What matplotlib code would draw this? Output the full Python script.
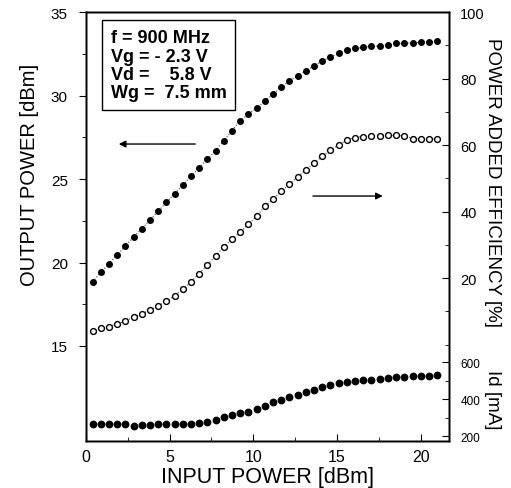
import numpy as np
import matplotlib.pyplot as plt

plt.rcParams['font.family'] = ['Liberation Sans', 'DejaVu Sans']

# input power grid (dBm)
pin = [0.4, 0.89, 1.38, 1.87, 2.36, 2.85, 3.34, 3.83, 4.32, 4.81, 5.3,
       5.79, 6.28, 6.77, 7.26, 7.75, 8.24, 8.73, 9.22, 9.71, 10.2, 10.69,
       11.18, 11.67, 12.16, 12.65, 13.14, 13.63, 14.12, 14.61, 15.1, 15.59,
       16.08, 16.57, 17.06, 17.55, 18.04, 18.53, 19.02, 19.51, 20.0, 20.49, 20.98]

pout = [18.85, 19.41, 19.94, 20.45, 20.99, 21.53, 22.02, 22.54, 23.07, 23.6,
        24.12, 24.64, 25.16, 25.68, 26.2, 26.69, 27.3, 27.9, 28.5, 28.9,
        29.25, 29.69, 30.09, 30.49, 30.89, 31.19, 31.49, 31.78, 32.08, 32.32,
        32.54, 32.74, 32.83, 32.89, 32.95, 32.98, 33.04, 33.13, 33.14, 33.16,
        33.19, 33.22, 33.26]

pae = [4.2, 4.96, 5.4, 6.3, 7.0, 8.4, 9.3, 10.4, 11.7, 13.1, 14.7, 16.7,
       18.9, 21.4, 24.0, 26.7, 29.5, 31.7, 33.8, 36.2, 38.6, 41.6, 43.8,
       46.1, 48.3, 50.5, 52.6, 54.6, 56.6, 58.5, 60.1, 61.6, 62.3, 62.6,
       62.8, 62.9, 63.0, 63.0, 62.8, 62.0, 62.0, 62.0, 61.8]

idrain = [265, 265, 265, 265, 265, 256, 261, 261, 265, 265, 265, 265, 265,
          269, 274, 287, 301, 315, 325, 332, 346, 364, 382, 396, 409, 422,
          436, 450, 463, 477, 486, 493, 496, 501, 503, 508, 512, 517, 521,
          523, 523, 526, 531]

fig = plt.figure(figsize=(5.11, 4.89), dpi=100)
ax = fig.add_axes([0.168, 0.096, 0.711, 0.877])
ax2 = ax.twinx()
ax3 = ax.twinx()

ax.plot(pin, pout, ls=':', lw=0.8, color='0.3', marker='o', ms=4.0,
        mfc='black', mec='black', zorder=3)
ax2.plot(pin, pae, ls=':', lw=0.8, color='0.3', marker='o', ms=4.2,
         mfc='white', mec='black', mew=1.0, zorder=3)
ax3.plot(pin, idrain, ls='none', marker='o', ms=4.6, mfc='black', mec='black')

ax.set_xlim(0, 21.7)
ax.set_ylim(9.3, 35)
ax.set_xticks([0, 5, 10, 15, 20])
ax.set_xticks([2.5, 7.5, 12.5, 17.5], minor=True)
ax.set_yticks([15, 20, 25, 30, 35])
ax.set_yticks([17.5, 22.5, 27.5, 32.5], minor=True)
ax.tick_params(axis='x', direction='in', length=5, labelsize=11.5, pad=6)
ax.tick_params(axis='x', which='minor', direction='in', length=3)
ax.tick_params(axis='y', direction='out', length=5, labelsize=11, pad=8)
ax.tick_params(axis='y', which='minor', direction='out', length=3)

ax2.set_ylim(-29, 100)
ax2.set_yticks([20, 40, 60, 80, 100])
ax2.set_yticks([0, 10, 30, 50, 70, 90], minor=True)
ax2.tick_params(axis='y', direction='in', length=5, labelsize=10.5, pad=8)
ax2.tick_params(axis='y', which='minor', direction='in', length=3)

ax3.set_ylim(173, 2490)
ax3.set_yticks([200, 400, 600])
ax3.set_yticks([300, 500], minor=True)
ax3.tick_params(axis='y', direction='in', length=5, labelsize=8.5, pad=8)
ax3.tick_params(axis='y', which='minor', direction='in', length=3)

for a in (ax, ax2, ax3):
    for s in a.spines.values():
        s.set_linewidth(1.0)

# arrows pointing at the relevant axes
ax.annotate('', xy=(1.8, 27.1), xytext=(6.7, 27.1),
            arrowprops=dict(arrowstyle='-|>', lw=1.0, color='black',
                            mutation_scale=10))
ax2.annotate('', xy=(17.9, 44.7), xytext=(13.4, 44.7),
             arrowprops=dict(arrowstyle='-|>', lw=1.0, color='black',
                             mutation_scale=10))

ax.text(0.068, 0.96,
        'f = 900 MHz\nVg = - 2.3 V\nVd =    5.8 V\nWg =  7.5 mm',
        transform=ax.transAxes, va='top', ha='left', fontsize=13,
        fontweight='bold', linespacing=1.1,
        bbox=dict(boxstyle='square,pad=0.5', fc='white', ec='black', lw=1.0))

ax.set_xlabel('INPUT POWER [dBm]', fontsize=15.5, labelpad=1)
fig.text(30 / 511, 1 - 175 / 489, 'OUTPUT POWER [dBm]', rotation=90,
         fontsize=14.5, ha='center', va='center')
fig.text(492 / 511, 1 - 182 / 489, 'POWER ADDED EFFICIENCY [%]', rotation=270,
         fontsize=13.5, ha='center', va='center')
fig.text(492 / 511, 1 - 400 / 489, 'Id [mA]', rotation=270,
         fontsize=13.5, ha='center', va='center')

fig.savefig('out.png', dpi=100)
